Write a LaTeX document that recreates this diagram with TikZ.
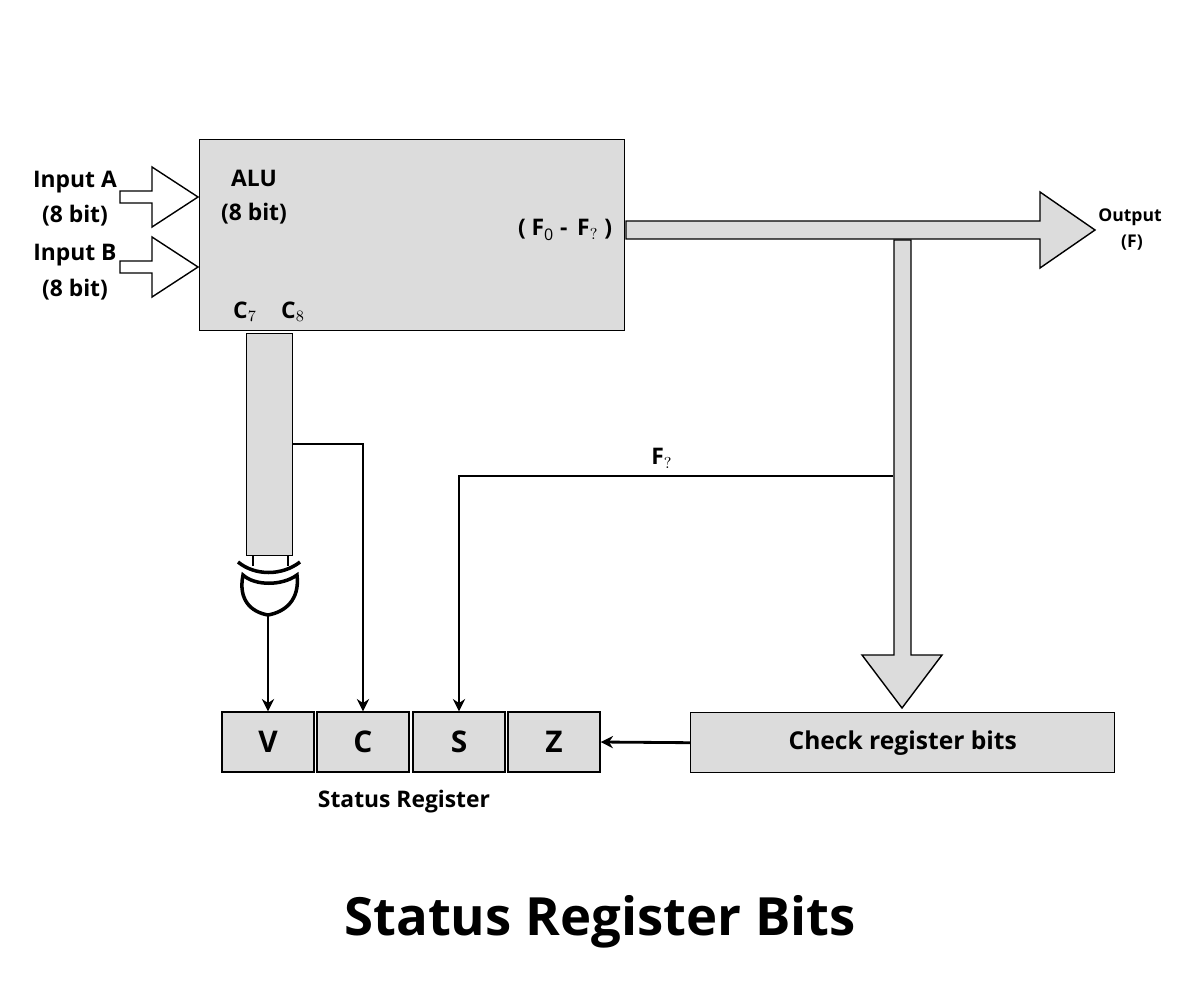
\documentclass[tikz,border=0pt]{standalone}
\usepackage{fontspec}
\setmainfont{Open Sans}
\usetikzlibrary{arrows.meta}
\tikzset{
  bus/.style={draw=black, thick, fill=busgray},
  lbl/.style={font=\bfseries\fontsize{13}{15}\selectfont, inner sep=0pt},
  cell/.style={draw=black, thick, fill=busgray, minimum width=92\pxu, minimum height=60\pxu, font=\bfseries\fontsize{17}{19}\selectfont},
  wire/.style={line width=1.6pt, -{Stealth[length=7pt,width=7pt]}}
}
\newlength{\pxu}\setlength{\pxu}{0.02cm}
\definecolor{busgray}{HTML}{DCDCDC}
\begin{document}
\begin{tikzpicture}[x=0.02cm, y=-0.02cm]
\useasboundingbox (0,0) rectangle (1200,1000);
% alu block
\node[bus, minimum width=425\pxu, minimum height=191\pxu, anchor=north west] (alu) at (199,139) {};
\node[lbl] (alut) at (254,178) {ALU};
\node[lbl] (alub) at (254,214) {(8 bit)};
\node[lbl] (fout) at (565,230) {( F$_{\mathrm 0}$ -\, F$_{?}$ )};
\node[lbl] (c7) at (245,312) {C$_{7}$};
\node[lbl] (c8) at (293,312) {C$_{8}$};
% inputs
\foreach \y/\t [count=\i] in {197/A, 267/B} {
  \draw[thick, fill=white] (120,\y-6) -- (152,\y-6) -- (152,\y-30) -- (198,\y) -- (152,\y+30) -- (152,\y+6) -- (120,\y+6) -- cycle;
}
\node[lbl] (ina) at (75,182) {Input A};
\node[lbl] (ina2) at (75,216) {(8 bit)};
\node[lbl] (inb) at (75,255) {Input B};
\node[lbl] (inb2) at (75,290) {(8 bit)};
% output bus
\draw[bus] (626,221) -- (1040,221) -- (1040,192) -- (1095,230) -- (1040,268) -- (1040,239) -- (626,239) -- cycle;
\node[lbl, font=\bfseries\fontsize{10}{12}\selectfont] (outt) at (1130,217) {Output};
\node[lbl, font=\bfseries\fontsize{10}{12}\selectfont] (outf) at (1132,243) {(F)};
% vertical bus to check
\draw[bus] (894,240) -- (911,240) -- (911,655) -- (942,655) -- (902,708) -- (862,655) -- (894,655) -- cycle;
% check and status cells
\node[bus, minimum width=424\pxu, minimum height=60\pxu, anchor=north west, font=\bfseries\fontsize{14}{16}\selectfont] (chk) at (690,712) {Check register bits};
\node[cell] (v) at (268,742) {V};
\node[cell] (c) at (363,742) {C};
\node[cell] (s) at (459,742) {S};
\node[cell] (z) at (554,742) {Z};
\node[lbl] (sr) at (404,802) {Status Register};
% carry column
\node[bus, minimum width=46\pxu, minimum height=222\pxu, anchor=north west] (col) at (246,333) {};
\coordinate (cbr) at (292,444);
\coordinate (tap) at (893,476);
\draw[wire] (cbr) -| (c.north);
\draw[wire] (tap) -| (s.north);
\node[lbl] (f7) at (662,458) {F$_{?}$};
\draw[wire] (chk.west) -- (z.east);
% xor gate
\draw[line width=1.6pt] (253,555) -- (253,566) (288,555) -- (288,566);
\draw[line width=2pt, fill=white] (243,575) .. controls (255,586) and (282,586) .. (297,575) .. controls (300,600) and (285,612) .. (268,615) .. controls (251,612) and (238,600) .. (243,575) -- cycle;
\draw[line width=2pt] (238,562) .. controls (255,576) and (282,576) .. (300,562);
\coordinate (xo) at (268,615);
\draw[wire] (xo) -- (v.north);
% title
\node[font=\bfseries\fontsize{30}{34}\selectfont] (title) at (600,922) {Status Register Bits};
\end{tikzpicture}
\end{document}
